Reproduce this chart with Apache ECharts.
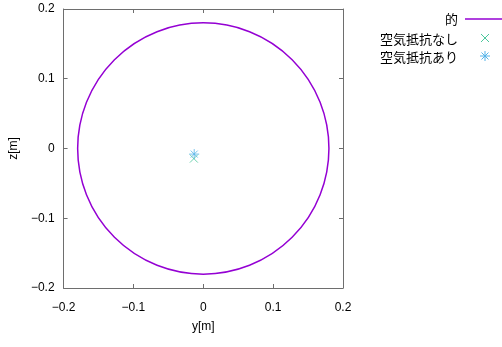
<!DOCTYPE html>
<html>
<head>
<meta charset="utf-8">
<script src="https://cdn.jsdelivr.net/npm/echarts@6/dist/echarts.min.js"></script>
<style>
html,body{margin:0;padding:0;background:#fff;}
#chart{width:502px;height:347px;}
</style>
</head>
<body>
<div id="chart"></div>
<script>
// ---- data ----
const seriesNames = ['的', '空気抵抗なし', '空気抵抗あり'];
const targetCircle = [[0, 0, 0.18]];          // center y, center z, radius
const noDragPoints = [[-0.0135, -0.0145]];
const dragPoints = [[-0.013, -0.008]];
const axisMin = -0.2, axisMax = 0.2, axisStep = 0.1;
const xName = 'y[m]', yName = 'z[m]';

const colTarget = '#9400d3';
const colNoDrag = '#4cc79c';
const colDrag = '#56b4e9';
const frameCol = '#6e6e6e';
const FONT = '"Liberation Sans", Arial, sans-serif';
const JFONT = '"Noto Sans CJK JP", sans-serif';

function fmt(v) {
  if (Math.abs(v) < 1e-9) return '0';
  return v.toFixed(1).replace('-', '\u2212');
}
const crossPath = 'path://M0,0L10,10M10,0L0,10';
const starPath = 'path://M5,0L5,10M0,5L10,5M1.5,1.5L8.5,8.5M8.5,1.5L1.5,8.5';

function mkAxis(pos, showLabel, isX) {
  return {
    type: 'value', position: pos, min: axisMin, max: axisMax, interval: axisStep,
    axisLine: {show: true, onZero: false, lineStyle: {color: frameCol, width: 1}},
    axisTick: {show: true, inside: true, length: 4, lineStyle: {color: frameCol}},
    splitLine: {show: false},
    axisLabel: {show: showLabel, formatter: fmt, color: '#000', fontSize: 12, fontFamily: FONT, margin: isX ? 14 : 9},
    name: showLabel ? (isX ? xName : yName) : '',
    nameLocation: 'middle',
    nameGap: isX ? 33 : 34,
    nameRotate: isX ? 0 : 90,
    nameTextStyle: {color: '#000', fontSize: 12, fontFamily: FONT}
  };
}

const chart = echarts.init(document.getElementById('chart'), null, {renderer: 'canvas'});
const legendX = 458;
const rows = [19, 39, 57];
function legendText(i) {
  return {type: 'text', x: legendX, y: rows[i], style: {text: seriesNames[i], font: '13px ' + JFONT, fill: '#000', align: 'right', verticalAlign: 'middle'}};
}
function seg(x1, y1, x2, y2, col, w) {
  return {type: 'line', shape: {x1: x1, y1: y1, x2: x2, y2: y2}, style: {stroke: col, lineWidth: w || 1}};
}
const cx = 485, cy1 = rows[1] - 1, cy2 = rows[2] - 1;
chart.setOption({
  animation: false,
  grid: {left: 63, right: 159, top: 9, bottom: 59},
  xAxis: [mkAxis('bottom', true, true), mkAxis('top', false, true)],
  yAxis: [mkAxis('left', true, false), mkAxis('right', false, false)],
  series: [
    {
      name: seriesNames[0], type: 'custom', xAxisIndex: 0, yAxisIndex: 0,
      data: targetCircle,
      renderItem: function (params, api) {
        const c = api.coord([api.value(0), api.value(1)]);
        const s = api.size([api.value(2), api.value(2)]);
        return {type: 'circle', shape: {cx: c[0], cy: c[1], r: (s[0] + s[1]) / 2},
          style: {fill: 'none', stroke: colTarget, lineWidth: 1.5}};
      }
    },
    {
      name: seriesNames[1], type: 'scatter', data: noDragPoints,
      symbol: crossPath, symbolSize: 8,
      itemStyle: {color: colNoDrag, borderColor: colNoDrag, borderWidth: 1}
    },
    {
      name: seriesNames[2], type: 'scatter', data: dragPoints,
      symbol: starPath, symbolSize: 10,
      itemStyle: {color: colDrag, borderColor: colDrag, borderWidth: 1}
    }
  ],
  graphic: [
    legendText(0), legendText(1), legendText(2),
    seg(465, rows[0], 502, rows[0], colTarget, 1.5),
    seg(cx - 4, cy1 - 4, cx + 4, cy1 + 4, colNoDrag),
    seg(cx + 4, cy1 - 4, cx - 4, cy1 + 4, colNoDrag),
    seg(cx, cy2 - 5, cx, cy2 + 5, colDrag),
    seg(cx - 5, cy2, cx + 5, cy2, colDrag),
    seg(cx - 3.5, cy2 - 3.5, cx + 3.5, cy2 + 3.5, colDrag),
    seg(cx + 3.5, cy2 - 3.5, cx - 3.5, cy2 + 3.5, colDrag)
  ]
});
</script>
</body>
</html>
